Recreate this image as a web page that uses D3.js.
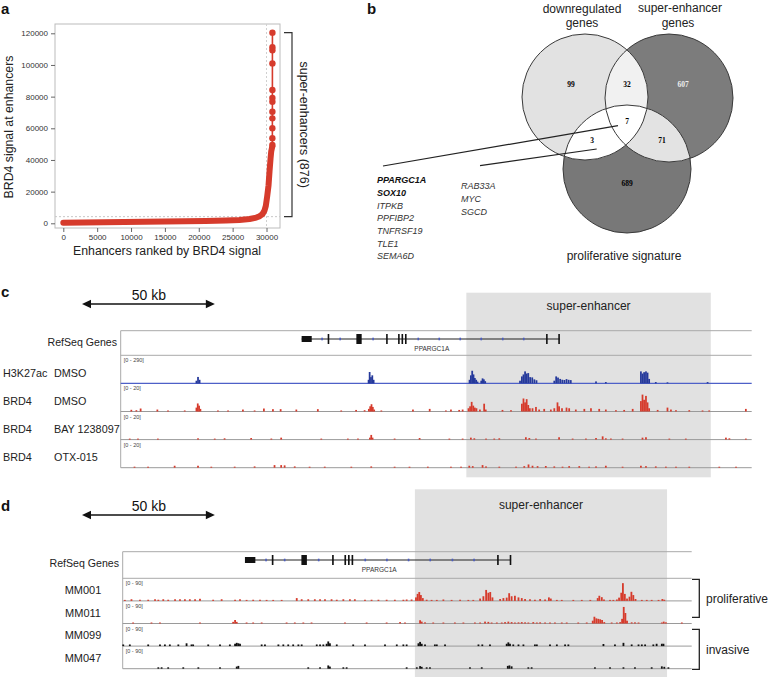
<!DOCTYPE html>
<html>
<head>
<meta charset="utf-8">
<script src="https://cdn.jsdelivr.net/npm/d3@7"></script>
<style>
  body { margin: 0; background: #fff; }
  svg { display: block; font-family: "Liberation Sans", Arial, sans-serif; }
</style>
</head>
<body>
<svg id="fig" width="770" height="677"></svg>
<script>
// ---------- panel a: ranked BRD4 signal ----------
const rankDense   = [0, 3000, 6000, 9000, 12000, 15000, 18000, 21000, 24000, 26000, 27500, 28500, 29000, 29400, 29700, 29900, 30100, 30300, 30450, 30600, 30700, 30800, 30864];
const signalDense = [300, 500, 650, 800, 950, 1100, 1300, 1500, 1800, 2100, 2700, 3600, 4500, 5800, 8000, 11000, 17000, 24000, 33000, 41000, 45500, 47500, 48500];
const rankTop   = [30865, 30866, 30867, 30868, 30869, 30870, 30871, 30872, 30873, 30874, 30875, 30876];
const signalTop = [49500, 53700, 60000, 66300, 70500, 76800, 79100, 84200, 101000, 109300, 111200, 120400];
const xTicksA = [0, 5000, 10000, 15000, 20000, 25000, 30000];
const yTicksA = [0, 20000, 40000, 60000, 80000, 100000, 120000];
const seCutoffRank = 30000;
const seCutoffSignal = 4200;
const seCount = 876;

// ---------- panel b: venn ----------
const vennTitles = [['downregulated', 'genes'], ['super-enhancer', 'genes'], ['proliferative signature']];
const vennRegions = ['1', '12', '2', '123', '13', '23', '3'];
const vennCounts  = [99, 32, 607, 7, 3, 71, 689];
const genesTriple = ['PPARGC1A', 'SOX10', 'ITPKB', 'PPFIBP2', 'TNFRSF19', 'TLE1', 'SEMA6D'];
const genesTripleBold = ['PPARGC1A', 'SOX10'];
const genesDownProl = ['RAB33A', 'MYC', 'SGCD'];

// ---------- panels c, d: genome browser (kb from PPARGC1A start) ----------
const superEnhancerKb = [62, 154];
const geneEndKb = 97.1;
const geneExons = [[0, 3.8, 'utr'], [9.8, 10.4, 'cds'], [20.6, 22.6, 'cds'], [31.8, 32.4, 'cds'], [36.3, 36.9, 'cds'],
                   [37.6, 38.2, 'cds'], [38.9, 39.5, 'cds'], [92.0, 92.6, 'cds'], [96.6, 97.1, 'cds']];
const strandTicksKb = [7.7, 14.5, 26.9, 43.9, 51.8, 59.7, 67.6, 75.7, 83.6];

const h3k27acDmso = [
  [-39.6,30],[-39.0,72],[-38.4,40],
  [25.2,40],[25.6,127],[26.1,70],[26.6,90],[27.1,40],
  [63.2,40],[63.7,90],[64.2,141],[64.7,100],[65.2,60],[65.7,40],[66.2,20],
  [67.6,30],[68.1,56],[68.6,45],[69.1,25],
  [82.2,30],[82.9,78],[83.5,100],[84.1,134],[84.7,110],[85.3,115],[86.0,70],[86.8,67],[87.6,45],[88.4,35],
  [95.1,30],[95.8,78],[96.5,65],[97.3,50],[98.1,41],[98.9,38],[99.7,48],[100.5,40],[101.3,37],
  [110.8,22],[114.5,15],
  [127.7,134],[128.3,110],[128.9,125],[129.6,134],[130.2,120],[130.8,50],
  [133.3,15],[137.7,12],[152.8,15]
];
const brd4Dmso = [
  [-64.1,1.3],[-62.2,1],[-60.6,2.3],[-54.3,1.5],[-50.3,0.8],[-44.0,0.8],
  [-39.6,3],[-39.1,6.2],[-38.6,4.5],[-38.1,2],
  [-31.5,0.8],[-27.7,0.8],[-22.1,1.5],[-17.7,0.8],[-14.2,2.3],[-10.8,1.8],[-7.9,1.8],[-2.0,1.5],[6.1,1.8],[14.9,0.8],[20.5,1.2],[23.7,1],
  [25.3,2],[25.8,4],[26.3,5.6],[26.8,3.5],[27.3,1.5],
  [30.0,0.8],[41.9,1.5],[48.2,2],
  [54.3,0.8],[56.2,1.5],[59.3,1.2],[60.6,1.5],
  [62.8,2.5],[63.4,4],[64.0,7.4],[64.6,4.5],[65.2,3],[65.8,2.5],[67.1,1.5],[68.7,6],[69.3,1.5],
  [75.6,1.2],[78.8,1],
  [82.9,6],[83.5,10],[84.1,7],[84.7,9.5],[85.3,5],[85.9,2.5],[86.9,2.5],[88.2,3.5],[89.4,1.5],
  [91.3,2],[93.8,1.5],[95.1,2.5],[96.3,7],[96.9,4],[98.0,2.5],[99.7,3],[100.7,2.5],
  [103.2,1.5],[106.4,2],[108.9,2.5],[112,2],[114.5,1.5],[118.3,1],[121.4,1.2],[124.6,2],
  [127.7,8],[128.3,13],[128.9,9],[129.6,12],[130.2,7],[130.8,2.5],
  [134,1.2],[137.7,3],[139,1.5],[140.9,1],[145.9,1],[150.9,0.8],[153.4,0.8],[167.2,2]
];
const brd4Bay = [
  [-64.7,0.6],[-61.6,0.5],[-54.1,0.5],[-39.0,1],[-32.7,0.6],[-29,1],[-19,1.2],[-11.4,0.8],[-7.7,1.5],[7.4,0.6],[17.4,0.6],[21.2,0.8],
  [25.7,1.5],[26.2,3.6],[26.7,1.5],
  [35,0.8],[44.4,1.2],[55.6,0.5],[60.6,0.5],[63.7,1.5],[65,1],[69.4,0.6],[72.5,0.8],[74.4,1],[84.4,1.8],[85.7,1.2],[88.2,0.8],
  [96.9,1.8],[102,0.6],[107,0.8],[110.8,1.2],[113.3,2.5],[114.5,1],[116.4,0.8],[120.8,0.6],[128.3,1.5],[129.6,1.8],
  [138.4,0.6],[144.6,0.6],[159.7,1.5],[161,1],[167.2,0.6]
];
const brd4Otx = [
  [-62.9,0.8],[-57.8,0.5],[-47.8,1.5],[-39.0,1.5],[-34,0.6],[-25.2,0.8],[-17.7,1],[-10.2,2],[-7.7,2],[-6.4,1.8],[-2.6,1],[3,0.6],
  [8.7,0.8],[18.7,0.6],[26.2,1],[35,0.6],[40.6,0.6],[47.5,0.8],
  [56.2,0.6],[60,0.8],[63.1,1.5],[64.4,1.2],[68.1,2],[69.4,1],[74.4,0.8],[80.7,0.8],[83.8,1.2],[85.4,2.5],[86.9,1.5],[88.8,1.2],
  [91.9,1.3],[95.1,1],[98.2,0.8],[100.7,1.2],[104.5,1.2],[108.2,0.8],[110.8,1],[114.5,1.5],[120.8,0.6],[127.7,1.5],[129.6,1.2],
  [133.3,1],[137.1,0.8],[140.9,0.6],[145.9,0.6],[157.2,0.6],[163.5,0.5]
];
const mm001 = [
  [-43.8,4],[-41.4,7],[-38.3,5],[-35.3,5],[-32.8,7],[-31.6,5],[-29.8,7],[-28,5],[-25.5,7],[-23.7,7],[-21.9,7],[-20.1,7],[-18.2,7],[-16.4,9],
  [-11.6,5],[-8.5,7],[-3.6,5],[-1.8,7],[0.6,4],[3,5],[5.5,5],[7.9,4],[10.3,4],[13.4,4],[18.9,12],[20.7,7],[23.1,7],[25.5,7],[27.4,7],
  [29.2,7],[31.6,7],[33.5,5],[35.9,7],[38.3,7],[40.1,7],[43.8,5],[46.2,5],[48.7,5],[51.7,5],[54.7,5],[57.8,5],[59,6],[60.8,6],
  [62.4,15],[63,30],[63.6,38],[64.2,25],[64.9,12],
  [66.3,5],[68.1,4],[70,4],[72.4,6],[75.4,3],[78.5,5],[81.5,3],[83.3,3],
  [85.8,10],[87,20],[88,47],[88.8,35],[89.5,38],[90.3,15],
  [93.1,8],[94.3,12],[95.5,14],[96.4,33],[97.3,20],[98.5,22],[99.8,15],[101,12],[102.2,8],
  [104,7],[105.8,5],[107.7,8],[109.5,6],[110.9,15],[111.6,10],[113.8,4],[115.6,3],
  [119.8,3],[122.9,3],[126,3],
  [128.7,12],[129.3,22],[130.2,16],[131,6],
  [133.2,3],[134.4,4],[135.7,6],[136.5,14],[137.3,35],[137.9,76],[138.6,30],[139.4,10],[140.3,18],[141,39],[141.7,25],[142.5,8],
  [144.8,4],[146.6,3],[148.4,3],[150.9,3],[152.3,8],[153,5]
];
const mm011 = [
  [-40.8,4],[-34.1,4],[-31,4],[-16.4,4],[-4.3,7],[-3.6,15],[-3,7],[0.6,4],[3,4],[6.1,4],[15.2,4],[18.2,4],[21.3,4],[24.3,4],
  [36.5,4],[44.4,4],[51.7,4],[56.6,6],[58.4,4],
  [63.9,14],[64.5,8],[65.7,5],[68.7,3],[72.4,3],[76.6,2],[79.7,2],[83.9,3],[85.8,4],[87.6,8],[88.8,7],[90,4],[91.9,3],[93.7,4],
  [94.9,6],[96.1,8],[97.3,6],[98.5,4],[99.8,5],[101,6],[102.2,5],[103.4,4],[105.2,6],[106.5,4],[107.7,5],[109.5,4],[111.3,3],
  [113.1,3],[115.6,2],[117.4,2],[121.6,2],[124.7,2],
  [126.9,12],[127.5,29],[128.2,22],[128.9,20],[129.6,18],[130.3,15],[131.1,6],
  [133.8,3],[135.7,4],[136.9,6],[137.6,20],[138.2,71],[138.8,45],[139.4,12],[141.1,5],[142.3,5],[143.6,2],
  [152.1,4],[152.8,8],[153.6,5],[159.4,2]
];
const mm099 = [
  [-44.4,7],[-42,7],[-35.3,7],[-31,7],[-29.2,7],[-27.4,7],[-24.3,7],[-21.3,12],[-19.5,7],[-18.9,7],[-13.4,7],[-9.1,7],[-5.5,7],
  [-3.6,10],[-3,14],[-2.4,12],[-1.8,10],[6.1,7],[7.3,7],[12.2,7],[14,7],[15.8,7],[17.6,7],[19.5,7],[20.7,7],[26.2,7],[27.4,7],
  [28.6,7],[29.8,10],[30.4,20],[31,12],[33.5,7],[39.5,7],[43.8,7],[51.1,7],[55.4,7],[57.8,7],
  [59,7],[63.3,12],[63.9,18],[64.5,10],[65.7,7],[69.3,7],[70,7],[73,7],[85.2,7],[86.6,7],[89.4,7],[95.5,10],[96.1,16],[96.7,10],
  [97.9,7],[99.8,7],[101.6,7],[105.8,7],[106.5,7],[111.3,7],[113.8,7],[116.8,7],[118,7],[130.8,9],[135,7],[138.1,14],[141.1,7],
  [143.6,7],[144.8,7],[146,7],[149,7],[150.2,10],[152.1,10],[152.7,10]
];
const mm047 = [
  [-31.6,6],[-30.4,6],[-28,6],[-22.5,6],[-17,6],[-9.1,6],[-3,9],[-2.4,12],[23.1,6],[27.4,6],[30.4,14],[31,9],[35.9,6],[37.1,6],[59,6],
  [62.7,6],[63.9,11],[64.5,8],[66.3,6],[67.5,6],[82.1,6],[86.4,6],[95.9,12],[96.5,14],[97.3,10],[103.4,6],[104.6,6],[127.7,6],
  [133.2,6],[138.1,6],[142.3,6],[148.4,6],[152.1,10],[153,8],[154.5,6]
];

const RED = '#d63b2c';
const BLUE = '#25399b';
const svg = d3.select('#fig');

function panelLetter(t, x, y) {
  svg.append('text').attr('x', x).attr('y', y).text(t)
    .style('font-size', '15px').style('font-weight', 'bold').attr('fill', '#111');
}

// ======================= panel a =======================
function drawPanelA() {
  const g = svg.append('g');
  const x = d3.scaleLinear().domain([0, 30000]).range([63.3, 266.5]);
  const y = d3.scaleLinear().domain([0, 120000]).range([223.3, 33.3]);

  g.append('rect').attr('x', 55).attr('y', 24).attr('width', 225).attr('height', 204)
    .attr('fill', 'none').attr('stroke', '#bcbcbc');

  // cut-off guides
  g.append('line').attr('x1', 55).attr('x2', 280).attr('y1', y(seCutoffSignal)).attr('y2', y(seCutoffSignal))
    .attr('stroke', '#c8c8c8').attr('stroke-dasharray', '2,2');
  g.append('line').attr('x1', x(seCutoffRank)).attr('x2', x(seCutoffRank)).attr('y1', 24).attr('y2', 228)
    .attr('stroke', '#d0d0d0').attr('stroke-dasharray', '2,2');

  const yAxis = g.append('g').attr('transform', 'translate(55,0)')
    .call(d3.axisLeft(y).tickValues(yTicksA).tickSize(4).tickPadding(3).tickFormat(d3.format('d')));
  const xAxis = g.append('g').attr('transform', 'translate(0,228)')
    .call(d3.axisBottom(x).tickValues(xTicksA).tickSize(4).tickPadding(2).tickFormat(d3.format('d')));
  [yAxis, xAxis].forEach(a => {
    a.select('.domain').remove();
    a.selectAll('line').attr('stroke', '#666');
    a.selectAll('text').attr('fill', '#333').style('font-size', '8px')
      .style('font-family', '"Liberation Sans", Arial, sans-serif');
  });

  const pts = rankDense.map((r, i) => [r, signalDense[i]]);
  const top = [pts[pts.length - 1]].concat(rankTop.map((r, i) => [r, signalTop[i]]));
  const line = d3.line().x(d => x(d[0])).y(d => y(d[1]));

  g.append('path').attr('d', line(top)).attr('fill', 'none').attr('stroke', RED).attr('stroke-width', 1.6);
  g.append('path').attr('d', line(pts)).attr('fill', 'none').attr('stroke', RED)
    .attr('stroke-width', 6).attr('stroke-linecap', 'round').attr('stroke-linejoin', 'round');
  g.selectAll('circle.se').data(top.slice(1)).enter().append('circle')
    .attr('cx', d => x(d[0])).attr('cy', d => y(d[1])).attr('r', 3.2).attr('fill', RED);

  g.append('text').attr('transform', 'translate(13,127) rotate(-90)').attr('text-anchor', 'middle')
    .text('BRD4 signal at enhancers').style('font-size', '12.3px').attr('fill', '#222');
  g.append('text').attr('x', 167).attr('y', 254.5).attr('text-anchor', 'middle')
    .text('Enhancers ranked by BRD4 signal').style('font-size', '12.3px').attr('fill', '#222');

  // bracket over super-enhancers
  const bTop = y(d3.max(signalTop)), bBot = y(seCutoffSignal);
  g.append('path').attr('d', `M284,${bTop}H292V${bBot}H284`).attr('fill', 'none')
    .attr('stroke', '#333').attr('stroke-width', 1.2);
  g.append('text').attr('transform', `translate(300,${(bTop + bBot) / 2}) rotate(90)`).attr('text-anchor', 'middle')
    .text(`super-enhancers (${seCount})`).style('font-size', '12.5px').attr('fill', '#222');
}

// ======================= panel b =======================
function drawPanelB() {
  const g = svg.append('g');
  const c = [{ cx: 585, cy: 97, r: 63 }, { cx: 669, cy: 98, r: 64 }, { cx: 627, cy: 169, r: 64 }];
  const defs = svg.append('defs');
  c.forEach((d, i) => defs.append('clipPath').attr('id', 'vc' + i)
    .append('circle').attr('cx', d.cx).attr('cy', d.cy).attr('r', d.r));
  const circ = (d, fill, clip) => {
    const e = g.append('circle').attr('cx', d.cx).attr('cy', d.cy).attr('r', d.r).attr('fill', fill);
    if (clip !== undefined) e.attr('clip-path', `url(#vc${clip})`);
    return e;
  };
  circ(c[1], '#7c7c7c');
  circ(c[2], '#787878');
  circ(c[0], '#e2e2e2');
  circ(c[1], '#f1f1f1', 0);
  circ(c[2], '#e3e3e3', 1);
  circ(c[2], '#ffffff', 0);
  c.forEach(d => circ(d, 'none').attr('stroke', '#3a3a3a').attr('stroke-width', 1));

  const pos = { '1': [571, 84], '12': [627, 84], '2': [683, 84], '123': [627, 121], '13': [592, 140], '23': [662, 140], '3': [627, 183] };
  vennRegions.forEach((k, i) => {
    g.append('text').attr('x', pos[k][0]).attr('y', pos[k][1]).attr('text-anchor', 'middle').attr('dy', '0.35em')
      .text(vennCounts[i]).style('font-family', '"Liberation Serif", "Times New Roman", serif')
      .style('font-size', '7.5px').style('font-weight', 'bold').attr('fill', k === '2' ? '#eeeeee' : '#000');
  });

  const tl = (t, x, y) => g.append('text').attr('x', x).attr('y', y).attr('text-anchor', 'middle')
    .text(t).style('font-size', '12px').attr('fill', '#222');
  tl(vennTitles[0][0], 582, 13); tl(vennTitles[0][1], 582, 27);
  tl(vennTitles[1][0], 680, 12); tl(vennTitles[1][1], 678, 27);
  tl(vennTitles[2][0], 624, 259.5);

  g.append('line').attr('x1', 383).attr('y1', 166).attr('x2', 618).attr('y2', 125.7).attr('stroke', '#222').attr('stroke-width', 1.2);
  g.append('line').attr('x1', 480).attr('y1', 165.7).attr('x2', 596.7).attr('y2', 149).attr('stroke', '#222').attr('stroke-width', 1.2);

  genesTriple.forEach((t, i) => {
    g.append('text').attr('x', 377).attr('y', 180 + i * 12.7).attr('dy', '0.35em').text(t)
      .style('font-size', '9px').style('font-style', 'italic')
      .style('font-weight', genesTripleBold.includes(t) ? 'bold' : 'normal')
      .attr('fill', genesTripleBold.includes(t) ? '#111' : '#333');
  });
  genesDownProl.forEach((t, i) => {
    g.append('text').attr('x', 461).attr('y', 186 + i * 13).attr('dy', '0.35em').text(t)
      .style('font-size', '9px').style('font-style', 'italic').attr('fill', '#333');
  });
}

// ======================= panels c / d =======================
function drawBrowser(cfg) {
  const g = svg.append('g');
  const x = d3.scaleLinear().domain(cfg.domain).range([cfg.left, cfg.right]);

  // super-enhancer shading
  const sx0 = x(superEnhancerKb[0]), sx1 = x(superEnhancerKb[1]);
  g.append('rect').attr('x', sx0).attr('y', cfg.boxTop).attr('width', sx1 - sx0)
    .attr('height', cfg.boxBottom - cfg.boxTop).attr('fill', '#e1e1e1');
  g.append('text').attr('x', (sx0 + sx1) / 2).attr('y', cfg.seLabelY).attr('text-anchor', 'middle')
    .text('super-enhancer').style('font-size', '12px').attr('fill', '#222');

  // 50 kb scale arrow
  const ax0 = 82, ax1 = 82 + (cfg.arrowPxPerKb * 50), ay = cfg.arrowY;
  g.append('line').attr('x1', ax0 + 6).attr('x2', ax1 - 6).attr('y1', ay).attr('y2', ay)
    .attr('stroke', '#111').attr('stroke-width', 1.6);
  g.append('path').attr('d', `M${ax0},${ay}l9,-4.2v8.4z M${ax1},${ay}l-9,-4.2v8.4z`).attr('fill', '#111');
  g.append('text').attr('x', (ax0 + ax1) / 2 + 0.5).attr('y', ay - 4.5).attr('text-anchor', 'middle')
    .text('50 kb').style('font-size', '14px').attr('fill', '#111');

  // frame lines
  const lastBase = cfg.geneBottom + cfg.trackH * cfg.tracks.length;
  const hline = (yy, col, w) => g.append('line').attr('x1', cfg.left).attr('x2', cfg.right)
    .attr('y1', yy).attr('y2', yy).attr('stroke', col).attr('stroke-width', w || 1);
  hline(cfg.geneTop, '#a9a9a9');
  hline(cfg.geneBottom, '#a9a9a9');
  g.append('line').attr('x1', cfg.left).attr('x2', cfg.left).attr('y1', cfg.geneTop).attr('y2', lastBase)
    .attr('stroke', '#a9a9a9');

  // RefSeq gene model
  g.append('text').attr('x', cfg.refLabelX).attr('y', cfg.geneY + 3).attr('dy', '0.35em').attr('text-anchor', 'end')
    .text('RefSeq Genes').style('font-size', '10.6px').attr('fill', '#222');
  g.append('line').attr('x1', x(0)).attr('x2', x(geneEndKb)).attr('y1', cfg.geneY).attr('y2', cfg.geneY)
    .attr('stroke', '#222').attr('stroke-width', 1.2);
  strandTicksKb.forEach(k => g.append('rect').attr('x', x(k) - 0.8).attr('y', cfg.geneY - 1.3)
    .attr('width', 1.6).attr('height', 2.6).attr('fill', '#4a5cc0'));
  geneExons.forEach(e => {
    const h = e[2] === 'utr' ? 6 : 10;
    g.append('rect').attr('x', x(e[0])).attr('y', cfg.geneY - h / 2)
      .attr('width', Math.max(1.6, x(e[1]) - x(e[0]))).attr('height', h).attr('fill', '#111');
  });
  g.append('text').attr('x', x(49)).attr('y', cfg.geneY + 12).attr('text-anchor', 'middle')
    .text('PPARGC1A').style('font-size', '6.5px').attr('fill', '#333');

  // signal tracks
  cfg.tracks.forEach((t, i) => {
    const top = cfg.geneBottom + cfg.trackH * i;
    const base = top + cfg.trackH;
    const y = d3.scaleLinear().domain([0, t.max]).range([0, cfg.signalPx]);
    hline(base, t.baseColor, t.baseWidth);
    g.append('text').attr('x', cfg.left + 3).attr('y', top + 7).text(t.range)
      .style('font-size', '5.5px').attr('fill', '#444');
    g.selectAll(null).data(t.data).enter().append('rect')
      .attr('x', d => x(d[0] - 0.33))
      .attr('width', d => x(d[0] + 0.33) - x(d[0] - 0.33))
      .attr('y', d => base - Math.max(1, y(d[1])))
      .attr('height', d => Math.max(1, y(d[1])))
      .attr('fill', t.color);
    if (cfg.labelMode === 'two') {
      g.append('text').attr('x', 3).attr('y', base - 10.5).attr('dy', '0.35em').text(t.name)
        .style('font-size', '10.8px').attr('fill', '#222');
      g.append('text').attr('x', 54).attr('y', base - 10.5).attr('dy', '0.35em').text(t.cond)
        .style('font-size', '10.8px').attr('fill', '#222');
    } else {
      g.append('text').attr('x', 83).attr('y', base - 10.5).attr('dy', '0.35em').attr('text-anchor', 'middle')
        .text(t.name).style('font-size', '11px').attr('fill', '#222');
    }
  });
  return { g, x };
}

drawPanelA();
drawPanelB();

drawBrowser({
  domain: [-68.1, 169.4], left: 120.7, right: 751.7, arrowPxPerKb: 2.657, arrowY: 304,
  boxTop: 292.7, boxBottom: 477.3, seLabelY: 310.3,
  geneTop: 330.7, geneBottom: 355.3, geneY: 339, refLabelX: 117,
  trackH: 28.1, signalPx: 26, labelMode: 'two',
  tracks: [
    { name: 'H3K27ac', cond: 'DMSO', range: '[0 - 290]', max: 290, data: h3k27acDmso, color: BLUE, baseColor: '#4e60c8', baseWidth: 1.3 },
    { name: 'BRD4', cond: 'DMSO', range: '[0 - 20]', max: 20, data: brd4Dmso, color: RED, baseColor: '#9a9a9a' },
    { name: 'BRD4', cond: 'BAY 1238097', range: '[0 - 20]', max: 20, data: brd4Bay, color: RED, baseColor: '#9a9a9a' },
    { name: 'BRD4', cond: 'OTX-015', range: '[0 - 20]', max: 20, data: brd4Otx, color: RED, baseColor: '#9a9a9a' }
  ]
});

drawBrowser({
  domain: [-44.6, 163.0], left: 122.7, right: 691.7, arrowPxPerKb: 2.657, arrowY: 515,
  boxTop: 489.3, boxBottom: 677, seLabelY: 508.5,
  geneTop: 551.7, geneBottom: 578.3, geneY: 560, refLabelX: 119,
  trackH: 22.6, signalPx: 21, labelMode: 'one',
  tracks: [
    { name: 'MM001', range: '[0 - 90]', max: 90, data: mm001, color: RED, baseColor: '#9a9a9a' },
    { name: 'MM011', range: '[0 - 90]', max: 90, data: mm011, color: RED, baseColor: '#9a9a9a' },
    { name: 'MM099', range: '[0 - 90]', max: 90, data: mm099, color: '#111', baseColor: '#9a9a9a' },
    { name: 'MM047', range: '[0 - 90]', max: 90, data: mm047, color: '#111', baseColor: '#9a9a9a' }
  ]
});

// group brackets in panel d
function groupBracket(label, y0, y1) {
  svg.append('path').attr('d', `M692,${y0}H699.3V${y1}H692`).attr('fill', 'none')
    .attr('stroke', '#222').attr('stroke-width', 1.3);
  svg.append('text').attr('x', 706).attr('y', (y0 + y1) / 2).attr('dy', '0.35em').text(label)
    .style('font-size', '12px').attr('fill', '#222');
}
groupBracket('proliferative', 579.3, 617.3);
groupBracket('invasive', 629.3, 669.3);

panelLetter('a', 1, 14);
panelLetter('b', 367, 14);
panelLetter('c', 1, 297);
panelLetter('d', 1, 511);
</script>
</body>
</html>
